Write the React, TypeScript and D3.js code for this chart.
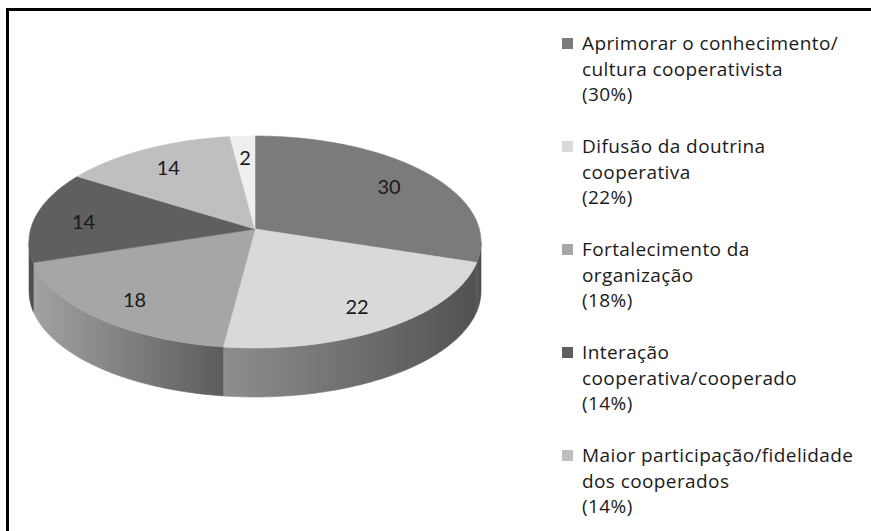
import React, { useRef, useEffect } from 'react';
import * as d3 from 'd3';

// slice values, clockwise from 12 o'clock
const values = [30, 22, 18, 14, 14, 2];
const legendLines = [
    ['Aprimorar o conhecimento/', 'cultura cooperativista', '(30%)'],
    ['Difusão da doutrina', 'cooperativa', '(22%)'],
    ['Fortalecimento da', 'organização', '(18%)'],
    ['Interação', 'cooperativa/cooperado', '(14%)'],
    ['Maior participação/fidelidade', 'dos cooperados', '(14%)'],
];

const topColors = ['#7b7b7b', '#d9d9d9', '#a6a6a6', '#5f5f5f', '#bfbfbf', '#efefef'];
const sideLight = ['#5c5c5c', '#8e8e8e', '#a2a2a2', '#555555', '#8a8a8a', '#aaaaaa'];
const sideDark = ['#4c4c4c', '#525252', '#5c5c5c', '#4a4a4a', '#6a6a6a', '#888888'];

const App = () => {
    const ref = useRef<SVGSVGElement>(null);

    useEffect(() => {
        const width = 871;
        const height = 531;
        const svg = d3.select(ref.current)
            .attr('width', width)
            .attr('height', height);
        svg.selectAll('*').remove();

        // perspective pie: unit disc -> screen through a homography
        const cx = 255, apexY = 229, persp = -0.1226, ry = 76.3, rx = 224.3;
        const depth = 49;
        const proj = (u: number, v: number): [number, number] => {
            const w = 1 + persp * v;
            return [cx + rx * u / w, (apexY + ry * v) / w];
        };
        const rim = (t: number, r = 1) => proj(r * Math.sin(t), -r * Math.cos(t));

        const arcs = d3.pie<number>().sort(null).value(d => d)(values);
        const deg = Math.PI / 180;
        const sample = (a0: number, a1: number) => {
            const n = Math.max(2, Math.ceil((a1 - a0) / deg));
            return d3.range(n + 1).map(i => a0 + (a1 - a0) * i / n);
        };
        const line = d3.line();

        const defs = svg.append('defs');
        arcs.forEach((a, i) => {
            const g = defs.append('linearGradient')
                .attr('id', `side${i}`)
                .attr('x1', 0).attr('x2', 1).attr('y1', 0).attr('y2', 0);
            g.append('stop').attr('offset', 0).attr('stop-color', sideLight[i]);
            g.append('stop').attr('offset', 1).attr('stop-color', sideDark[i]);
        });

        // visible side: where rim silhouette is in front
        const vis0 = Math.acos(persp);
        const vis1 = 2 * Math.PI - vis0;
        const sides = svg.append('g');
        arcs.forEach((a, i) => {
            const t0 = Math.max(a.startAngle, vis0);
            const t1 = Math.min(a.endAngle, vis1);
            if (t1 <= t0) return;
            const ts = sample(t0, t1);
            const topPts = ts.map(t => rim(t));
            const botPts = ts.slice().reverse().map(t => {
                const p = rim(t);
                return [p[0], p[1] + depth] as [number, number];
            });
            sides.append('path')
                .attr('d', line([...topPts, ...botPts]) + 'Z')
                .attr('fill', `url(#side${i})`)
                .attr('stroke', `url(#side${i})`)
                .attr('stroke-width', 0.6);
        });

        const tops = svg.append('g');
        arcs.forEach((a, i) => {
            const pts = [proj(0, 0), ...sample(a.startAngle, a.endAngle).map(t => rim(t))];
            tops.append('path')
                .attr('d', line(pts) + 'Z')
                .attr('fill', topColors[i])
                .attr('stroke', topColors[i])
                .attr('stroke-width', 0.6);
        });

        const labelAt = (d: d3.PieArcDatum<number>) => rim((d.startAngle + d.endAngle) / 2, 0.78);
        svg.append('g')
            .selectAll('text')
            .data(arcs)
            .join('text')
            .attr('x', d => labelAt(d)[0])
            .attr('y', d => labelAt(d)[1] + 3)
            .attr('dy', '0.35em')
            .attr('text-anchor', 'middle')
            .attr('font-family', 'Lato, sans-serif')
            .attr('font-size', 20)
            .attr('fill', '#1a1a1a')
            .text(d => d.data);

        // legend
        const legend = svg.append('g')
            .attr('font-family', '"Open Sans", sans-serif')
            .attr('font-size', 19)
            .attr('letter-spacing', 0.4)
            .attr('fill', '#1a1a1a');
        const ly = d3.scaleLinear().domain([0, 1]).range([50, 153]);
        legendLines.forEach((lines, i) => {
            const g = legend.append('g').attr('transform', `translate(0,${ly(i)})`);
            g.append('rect')
                .attr('x', 562).attr('y', -12)
                .attr('width', 11).attr('height', 11)
                .attr('fill', topColors[i]);
            g.append('text')
                .selectAll('tspan')
                .data(lines)
                .join('tspan')
                .attr('x', 582)
                .attr('y', (d, j) => j * 25.5)
                .text(d => d);
        });

        // frame (cropped: only top and left edges)
        svg.append('path')
            .attr('d', `M7.5,${height} V9.5 H${width}`)
            .attr('fill', 'none')
            .attr('stroke', '#000')
            .attr('stroke-width', 3);
    }, []);

    return (
        <svg ref={ref} style={{ position: 'absolute', left: 0, top: 0, background: '#fff' }}></svg>
    );
};

export default App;
